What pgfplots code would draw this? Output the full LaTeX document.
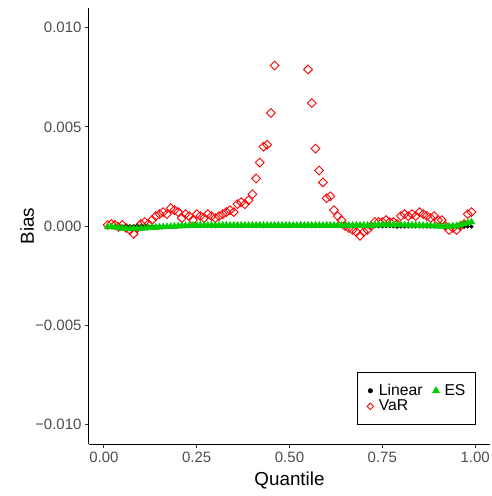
\documentclass[border=0pt]{standalone}
\usepackage{fontspec}
\setmainfont{Liberation Sans}
\usepackage{pgfplots}
\usepackage{pgfplotstable}
\pgfplotsset{compat=1.18}
\definecolor{esgreen}{RGB}{0,205,0}
\definecolor{tickgray}{RGB}{77,77,77}
\definecolor{tickmark}{RGB}{51,51,51}

\pgfplotstableread{
q lin es var
0.01 -0.00002 -0.00005 0.00005
0.02 -0.00002 -0.00005 0.00010
0.03 -0.00002 -0.00006 0.00005
0.04 -0.00001 -0.00010 -0.00005
0.05 -0.00001 -0.00012 0.00005
0.06 -0.00001 -0.00013 -0.00010
0.07 0.00000 -0.00014 -0.00020
0.08 0.00000 -0.00014 -0.00040
0.09 0.00000 -0.00013 -0.00010
0.10 0.00000 -0.00012 0.00010
0.11 0.00000 -0.00011 0.00020
0.12 0.00000 -0.00010 0.00010
0.13 -0.00001 -0.00008 0.00030
0.14 -0.00001 -0.00007 0.00050
0.15 -0.00001 -0.00006 0.00060
0.16 -0.00001 -0.00005 0.00070
0.17 -0.00001 -0.00004 0.00060
0.18 -0.00001 -0.00003 0.00090
0.19 -0.00001 -0.00002 0.00080
0.20 -0.00001 -0.00001 0.00070
0.21 -0.00001 0.00000 0.00040
0.22 -0.00001 0.00001 0.00060
0.23 -0.00001 0.00002 0.00050
0.24 -0.00001 0.00003 0.00030
0.25 -0.00001 0.00003 0.00060
0.26 -0.00001 0.00003 0.00050
0.27 -0.00001 0.00003 0.00040
0.28 -0.00001 0.00003 0.00060
0.29 -0.00001 0.00003 0.00050
0.30 -0.00001 0.00003 0.00040
0.31 -0.00001 0.00003 0.00050
0.32 -0.00001 0.00003 0.00060
0.33 -0.00001 0.00003 0.00070
0.34 -0.00001 0.00003 0.00080
0.35 -0.00001 0.00003 0.00070
0.36 -0.00001 0.00003 0.00110
0.37 -0.00001 0.00003 0.00120
0.38 -0.00001 0.00003 0.00110
0.39 -0.00001 0.00003 0.00130
0.40 -0.00001 0.00003 0.00160
0.41 -0.00001 0.00003 0.00240
0.42 -0.00001 0.00003 0.00320
0.43 -0.00001 0.00003 0.00400
0.44 -0.00001 0.00003 0.00410
0.45 -0.00001 0.00003 0.00570
0.46 -0.00001 0.00003 0.00810
0.47 -0.00001 0.00003 nan
0.48 -0.00001 0.00003 nan
0.49 -0.00001 0.00003 nan
0.50 -0.00001 0.00003 nan
0.51 -0.00001 0.00003 nan
0.52 -0.00001 0.00003 nan
0.53 -0.00001 0.00003 nan
0.54 -0.00001 0.00003 nan
0.55 -0.00001 0.00003 0.00790
0.56 -0.00001 0.00003 0.00620
0.57 -0.00001 0.00003 0.00390
0.58 -0.00001 0.00003 0.00280
0.59 -0.00001 0.00003 0.00220
0.60 -0.00001 0.00003 0.00140
0.61 -0.00001 0.00003 0.00150
0.62 -0.00001 0.00003 0.00080
0.63 -0.00001 0.00003 0.00050
0.64 -0.00001 0.00003 0.00030
0.65 -0.00001 0.00003 0.00000
0.66 -0.00001 0.00003 -0.00010
0.67 -0.00001 0.00003 -0.00020
0.68 -0.00001 0.00003 -0.00030
0.69 -0.00001 0.00003 -0.00050
0.70 -0.00002 0.00003 -0.00030
0.71 -0.00002 0.00003 -0.00020
0.72 -0.00002 0.00003 0.00000
0.73 -0.00002 0.00004 0.00020
0.74 -0.00002 0.00005 0.00020
0.75 -0.00002 0.00006 0.00020
0.76 -0.00002 0.00006 0.00030
0.77 -0.00002 0.00006 0.00020
0.78 -0.00002 0.00006 0.00020
0.79 -0.00003 0.00006 0.00010
0.80 -0.00003 0.00005 0.00050
0.81 -0.00003 0.00005 0.00060
0.82 -0.00003 0.00004 0.00050
0.83 -0.00003 0.00004 0.00060
0.84 -0.00003 0.00003 0.00050
0.85 -0.00003 0.00003 0.00070
0.86 -0.00003 0.00002 0.00060
0.87 -0.00003 0.00002 0.00050
0.88 -0.00003 0.00001 0.00040
0.89 -0.00003 0.00000 0.00050
0.90 -0.00003 -0.00001 0.00030
0.91 -0.00003 -0.00002 0.00030
0.92 -0.00003 -0.00002 0.00000
0.93 -0.00003 -0.00002 -0.00020
0.94 -0.00003 -0.00001 -0.00010
0.95 -0.00003 0.00001 -0.00020
0.96 -0.00003 0.00005 0.00000
0.97 -0.00003 0.00010 0.00010
0.98 -0.00003 0.00015 0.00060
0.99 -0.00003 0.00020 0.00070
}\biastable

\begin{document}
\begin{tikzpicture}
\useasboundingbox (-89pt,-52pt) rectangle (402pt,444pt);
\begin{axis}[
  at={(0pt,0pt)}, anchor=south west,
  scale only axis, width=401pt, height=436pt,
  xmin=-0.04, xmax=1.04, ymin=-0.011, ymax=0.011,
  axis x line*=bottom, axis y line*=left,
  axis line style={-, line width=1pt, black},
  xtick={0,0.25,0.5,0.75,1}, xticklabels={0.00,0.25,0.50,0.75,1.00},
  ytick={-0.01,-0.005,0,0.005,0.01},
  yticklabels={−0.010,−0.005,0.000,0.005,0.010},
  scaled y ticks=false,
  tick align=outside, major tick length=4pt,
  tick style={tickmark, line width=0.9pt},
  ticklabel style={font=\fontsize{15}{18}\selectfont, text=tickgray},
  xlabel={Quantile}, ylabel={Bias},
  label style={font=\fontsize{18.8}{22}\selectfont},
  xlabel style={at={(axis description cs:0.5,-0.0963)}, anchor=base},
  ylabel style={at={(axis description cs:-0.1372,0.5)}, anchor=base, rotate=0},
  legend columns=2,
  legend style={at={(axis description cs:0.965,0.0436)}, anchor=south east,
    draw=black, line width=1pt, inner xsep=8pt, inner ysep=10pt,
    font=\fontsize{15.7}{16}\selectfont, row sep=-1pt,
    /tikz/every even column/.append style={column sep=7pt}},
  legend cell align=left,
  legend image code/.code={\path (-4pt,0pt) (6pt,0pt); \draw plot coordinates {(0pt,0pt)};},
]
\addplot[only marks, mark=square, mark size=3.1pt, draw=red, forget plot,
  mark options={rotate=45, line width=0.9pt, fill=none}]
  table[x=q, y=var] {\biastable};
\addplot[only marks, mark=*, mark size=1.8pt, black, forget plot]
  table[x=q, y=lin] {\biastable};
\addplot[only marks, mark=triangle*, mark size=4pt, esgreen, forget plot]
  table[x=q, y=es] {\biastable};
\addlegendimage{only marks, mark=*, mark size=2pt, black}
\addlegendentry{Linear}
\addlegendimage{only marks, mark=triangle*, mark size=3.6pt, esgreen}
\addlegendentry{ES}
\addlegendimage{only marks, mark=square, mark size=2.3pt, red, mark options={rotate=45, line width=0.9pt}}
\addlegendentry{VaR}
\end{axis}
\end{tikzpicture}
\end{document}
